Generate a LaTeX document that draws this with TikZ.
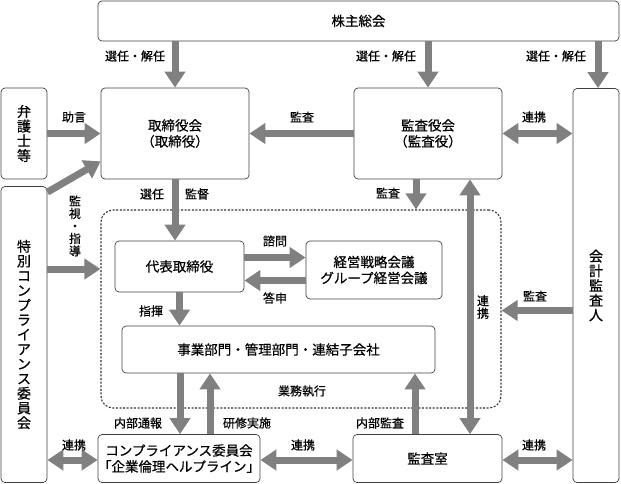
\documentclass[tikz,border=0pt]{standalone}
\usepackage{fontspec}
\setmainfont{Noto Sans CJK JP}[FakeBold=0.5]
\usetikzlibrary{arrows.meta}

\definecolor{arrgray}{RGB}{128,128,128}
\tikzstyle{box}=[draw=black!75, line width=0.7pt, rounded corners=4pt, align=center, inner sep=0pt, font=\fontsize{13.5}{16}\selectfont]
\tikzstyle{tate}=[box, font=\fontsize{14}{14.7}\selectfont]
\tikzstyle{arr}=[draw=arrgray, line width=7pt, -{Triangle[width=20pt,length=16pt]}]
\tikzstyle{dbl}=[draw=arrgray, line width=7pt, {Triangle[width=20pt,length=16pt]}-{Triangle[width=20pt,length=16pt]}]
\tikzstyle{lbl}=[inner sep=0pt, align=center, font=\fontsize{12}{12.5}\selectfont]

\begin{document}
\begin{tikzpicture}[x=1pt, y=-1pt]
\useasboundingbox (0,0) rectangle (621,483);

\node[draw=black!80, line width=1.1pt, dash pattern=on 2pt off 1.6pt, rounded corners=12pt, minimum width=400pt, minimum height=198pt] (region) at (301,309) {};

\node[box, minimum width=521pt, minimum height=40pt] (kabu) at (358.5,21) {株主総会};
\node[box, minimum width=148pt, minimum height=91pt] (tori) at (175,133.5) {取締役会\\（取締役）};
\node[box, minimum width=148pt, minimum height=91pt] (kansa) at (428,133.5) {監査役会\\（監査役）};
\node[tate, minimum width=46pt, minimum height=394pt] (kaikei) at (596,285.5) {会\\計\\監\\査\\人};
\node[tate, minimum width=46pt, minimum height=91pt] (bengo) at (24,133.5) {弁\\護\\士\\等};
\node[tate, minimum width=46pt, minimum height=296pt] (tokubetsu) at (24,334.5) {特\\別\\コ\\ン\\プ\\ラ\\イ\\ア\\ン\\ス\\委\\員\\会};
\node[box, minimum width=129pt, minimum height=51pt] (daihyo) at (179.5,266.5) {代表取締役};
\node[box, minimum width=136pt, minimum height=58pt] (keiei) at (374,270) {経営戦略会議\\グループ経営会議};
\node[box, minimum width=313pt, minimum height=47pt] (jigyo) at (278.5,349.5) {事業部門・管理部門・連結子会社};
\node[box, minimum width=156pt, minimum height=48pt] (comp) at (179,458.5) {コンプライアンス委員会\\「企業倫理ヘルプライン」};
\node[box, minimum width=149pt, minimum height=48pt] (kansashitsu) at (427.5,458.5) {監査室};

\draw[arr] (kabu.south -| tori.north) -- (tori.north);
\draw[arr] (kabu.south -| kansa.north) -- (kansa.north);
\draw[arr] ([xshift=2pt]kaikei.north |- kabu.south) -- ([xshift=2pt]kaikei.north);
\draw[arr] (bengo.east) -- (tori.west);
\draw[arr] ([yshift=-6pt]tokubetsu.north east) -- ([yshift=18pt]tori.south west);
\draw[arr] (kansa.west) -- (tori.east);
\draw[dbl] (kansa.east) -- (kansa.east -| kaikei.west);
\draw[arr] (tori.south) -- (tori.south |- daihyo.north);
\draw[arr] ([xshift=-12pt]kansa.south) -- ([xshift=-12pt]kansa.south |- region.north);
\draw[dbl] ([xshift=42pt]kansa.south) -- ([xshift=42pt]kansa.south |- kansashitsu.north);
\draw[arr] ([yshift=-2.5pt]tokubetsu.east |- daihyo) -- ([yshift=-2.5pt]region.west |- daihyo);
\draw[arr] ([yshift=9pt]daihyo.east) -- ([yshift=9pt]daihyo.east -| keiei.west);
\draw[arr] ([yshift=-14pt]daihyo.east -| keiei.west) -- ([yshift=-14pt]daihyo.east);
\draw[arr] (daihyo.south) -- (daihyo.south |- jigyo.north);
\draw[arr] ([yshift=-25pt]kaikei.west) -- ([yshift=-25pt]kaikei.west -| region.east);
\draw[arr] ([xshift=1pt]comp.north |- jigyo.south) -- ([xshift=1pt]comp.north);
\draw[arr] ([xshift=31pt]comp.north) -- ([xshift=31pt]comp.north |- jigyo.south);
\draw[arr] ([xshift=-12.5pt]kansashitsu.north) -- ([xshift=-12.5pt]kansashitsu.north |- jigyo.south);
\draw[dbl] ([yshift=-1.5pt]tokubetsu.east |- comp) -- ([yshift=-1.5pt]comp.west);
\draw[dbl] ([yshift=-1.5pt]comp.east) -- ([yshift=-1.5pt]kansashitsu.west);
\draw[dbl] ([yshift=-1.5pt]kansashitsu.east) -- ([yshift=-1.5pt]kansashitsu.east -| kaikei.west);

\node[lbl] (l1) at (135,56) {選任・解任};
\node[lbl] (l2) at (386,56) {選任・解任};
\node[lbl] (l3) at (556,56) {選任・解任};
\node[lbl] (l4) at (74,117) {助言};
\node[lbl] (l5) at (302,117) {監査};
\node[lbl] (l6) at (534,117) {連携};
\node[lbl] (l7) at (152,194) {選任};
\node[lbl] (l8) at (197,194) {監督};
\node[lbl] (l9) at (388,193) {監査};
\node[lbl] (l10) at (75,226) {監\\視\\・\\指\\導};
\node[lbl] (l11) at (275,241) {諮問};
\node[lbl] (l12) at (275,298) {答申};
\node[lbl] (l13) at (151,311) {指揮};
\node[lbl] (l14) at (483,307) {連\\携};
\node[lbl] (l15) at (535,296) {監査};
\node[lbl] (l16) at (302,391) {業務執行};
\node[lbl] (l17) at (138,423) {内部通報};
\node[lbl] (l18) at (247,423) {研修実施};
\node[lbl] (l19) at (380,423) {内部監査};
\node[lbl] (l20) at (74,445) {連携};
\node[lbl] (l21) at (303,445) {連携};
\node[lbl] (l22) at (534,445) {連携};
\end{tikzpicture}
\end{document}
